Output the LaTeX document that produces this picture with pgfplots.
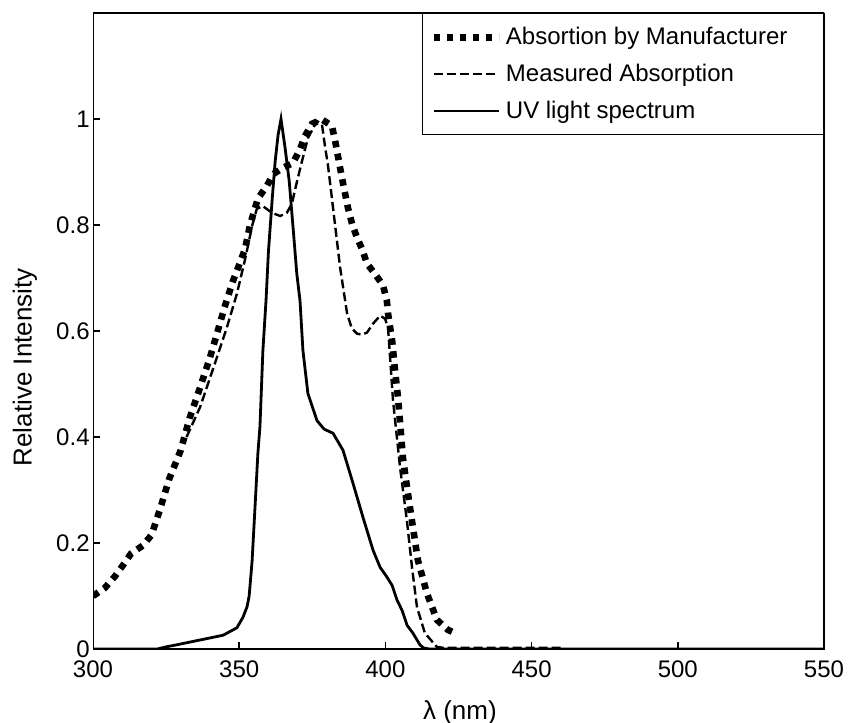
\documentclass[border=0pt]{standalone}
\usepackage{fontspec}
\setmainfont{Liberation Sans}
\usepackage{pgfplots}
\pgfplotsset{compat=1.18}
\begin{document}
\begin{tikzpicture}
\begin{axis}[
  scale only axis, width=365.5pt, height=318pt,
  xmin=300, xmax=550, ymin=0, ymax=1.2,
  xtick={300,350,400,450,500,550},
  ytick={0,0.2,0.4,0.6,0.8,1},
  tick align=inside,
  xtick pos=left, ytick pos=left,
  tickwidth=0pt,
  /pgf/number format/assume math mode=true,
  ticklabel style={font=\fontsize{12}{14}\selectfont},
  yticklabel style={inner xsep=1.5pt},
  xticklabel style={yshift=-2.5pt},
  xlabel={λ (nm)}, ylabel={Relative Intensity},
  label style={font=\fontsize{13}{15}\selectfont},
  x label style={at={(axis description cs:0.502,-0.1)}, anchor=center},
  y label style={at={(axis description cs:-0.093,0.443)}, anchor=center, rotate=0},
  unbounded coords=jump,
  legend cell align=left,
  legend image code/.code={\draw[#1] (0pt,0pt) -- (32.5pt,0pt);},
  legend style={at={(rel axis cs:1,1)}, anchor=north east, draw=black,
    line width=0.6pt, font=\fontsize{12}{14}\selectfont,
    inner xsep=4pt, inner ysep=4.8pt, row sep=4.2pt},
]
\addplot[black, line width=3.3pt, line cap=butt, dash pattern=on 3.3pt off 3.2pt] coordinates {
(300,0.100) (304,0.115) (307.5,0.137) (310.5,0.160) (313,0.180) (317,0.195)
(320,0.215) (323,0.265) (326,0.320) (330,0.375) (333,0.435) (336.6,0.493)
(340,0.550) (342.4,0.595) (345,0.645) (347.9,0.695) (350,0.725) (352,0.755)
(353.7,0.800) (356.4,0.850) (359.5,0.874) (361.6,0.896) (365,0.908) (368.4,0.917)
(370.8,0.943) (372.5,0.968) (374.9,0.991) (378.3,0.999) (381.7,0.987) (382.8,0.959)
(384.5,0.908) (385.5,0.879) (387.2,0.832) (388.6,0.802) (390.3,0.776) (392,0.755)
(393.7,0.727) (396.4,0.708) (399.2,0.686) (400.5,0.657) (400.9,0.633) (402.3,0.582)
(403.3,0.525) (404.3,0.475) (405.2,0.415) (406,0.360) (407.4,0.305) (409.4,0.230)
(411.1,0.168) (414.2,0.105) (417.6,0.055) (421.4,0.036) (424.7,0.028)
};
\addlegendentry{Absortion by Manufacturer\hspace*{12pt}\mbox{}}
\addplot[black, line width=1.2pt, dash pattern=on 4.5pt off 2pt] coordinates {
(332,0.400) (336.6,0.456) (341.7,0.539) (345.8,0.607) (349.2,0.670) (352,0.735)
(354.5,0.800) (356,0.830) (358,0.836) (361.2,0.823) (364,0.817) (366.3,0.823)
(368,0.840) (369.8,0.883) (371.5,0.921) (373.5,0.964) (376.6,0.996) (378.3,0.990)
(379.3,0.950) (380.3,0.915) (381.5,0.860) (383,0.790) (384.5,0.720) (386.9,0.633)
(388.5,0.605) (390.3,0.595) (392,0.593) (393.7,0.597) (395.8,0.614) (398.2,0.629)
(399.9,0.623) (400.9,0.606) (402.6,0.469) (405,0.343) (407.4,0.240) (409.1,0.154)
(410.8,0.079) (413.5,0.030) (417.6,0.004) (420,0.002) (460,0.002)
};
\addlegendentry{Measured Absorption}
\addplot[black, line width=1.4pt] coordinates {
(300,0) (322,0) (325,0.004) (328.7,0.008) (336.6,0.017) (344.5,0.026)
(349.2,0.040) (351.3,0.060) (352.7,0.080) (353.4,0.100) (354.4,0.165) (355.4,0.267)
(356.4,0.370) (357.1,0.420) (358.1,0.563) (359.2,0.660) (360,0.750) (361.3,0.850)
(362.3,0.920) (363.3,0.970) (364.3,1.000) (365.7,0.945) (367.1,0.883) (368.5,0.790)
(369.7,0.708) (370.8,0.657) (371.8,0.563) (373.5,0.482) (376.6,0.431) (379,0.415)
(382.1,0.407) (385.5,0.375) (388.9,0.313) (392.3,0.249) (395.8,0.186) (398.2,0.154)
(400.5,0.136) (402.3,0.120) (404,0.092) (405.7,0.073) (407.4,0.045) (409.4,0.030)
(411.8,0.008) (413,0.002) (415,0) (550,0)
};
\addlegendentry{UV light spectrum}
% inner tick marks (drawn as short segments)
\addplot[black, line width=0.8pt, forget plot] coordinates {
(350,0) (350,0.014) (nan,nan)
(400,0) (400,0.014) (nan,nan)
(450,0) (450,0.014) (nan,nan)
(500,0) (500,0.014) (nan,nan)
(300,0.2) (302.4,0.2) (nan,nan)
(300,0.4) (302.4,0.4) (nan,nan)
(300,0.6) (302.4,0.6) (nan,nan)
(300,0.8) (302.4,0.8) (nan,nan)
(300,1.0) (302.4,1.0)
};
\coordinate (sw) at (rel axis cs:0,0);
\coordinate (ne) at (rel axis cs:1,1);
\draw[line width=1.3pt] (sw) rectangle (ne);
\end{axis}
\pgfresetboundingbox
\path ([xshift=-46.5pt,yshift=-36.5pt]sw) rectangle ([xshift=12pt,yshift=6.5pt]ne);
\end{tikzpicture}
\end{document}
